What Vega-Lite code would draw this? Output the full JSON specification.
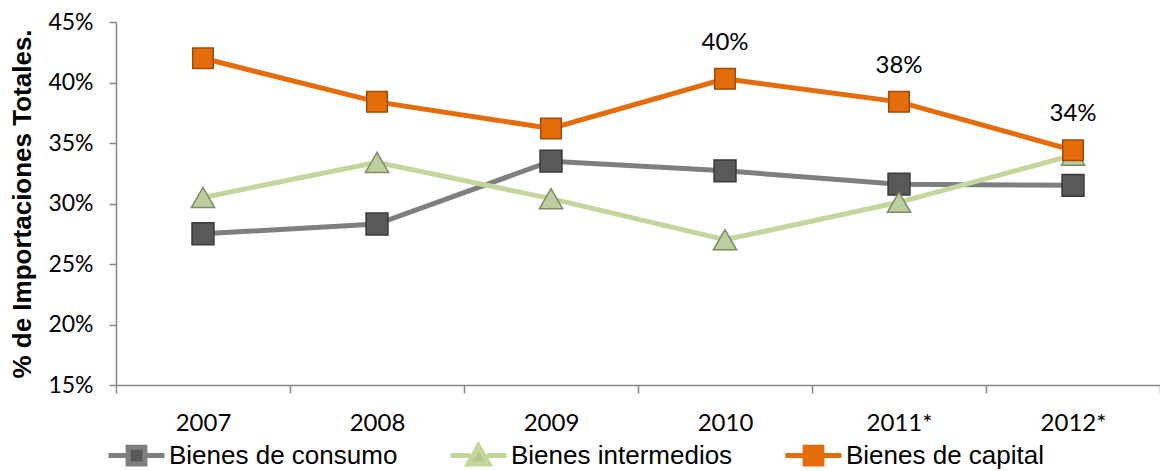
{
  "$schema": "https://vega.github.io/schema/vega-lite/v6.json",
  "width": 1044,
  "height": 363,
  "autosize": {"type": "none"},
  "padding": {"left": 116, "top": 22, "right": 0, "bottom": 86},
  "background": "white",
  "config": {"view": {"stroke": null}, "axis": {"grid": false}},
  "data": {
    "values": [
      {"year": "2007", "serie": "Bienes de consumo", "value": 0.275},
      {"year": "2008", "serie": "Bienes de consumo", "value": 0.283},
      {"year": "2009", "serie": "Bienes de consumo", "value": 0.335},
      {"year": "2010", "serie": "Bienes de consumo", "value": 0.327},
      {"year": "2011*", "serie": "Bienes de consumo", "value": 0.316},
      {"year": "2012*", "serie": "Bienes de consumo", "value": 0.315},
      {"year": "2007", "serie": "Bienes intermedios", "value": 0.305},
      {"year": "2008", "serie": "Bienes intermedios", "value": 0.334},
      {"year": "2009", "serie": "Bienes intermedios", "value": 0.304},
      {"year": "2010", "serie": "Bienes intermedios", "value": 0.270},
      {"year": "2011*", "serie": "Bienes intermedios", "value": 0.301},
      {"year": "2012*", "serie": "Bienes intermedios", "value": 0.340},
      {"year": "2007", "serie": "Bienes de capital", "value": 0.420},
      {"year": "2008", "serie": "Bienes de capital", "value": 0.384},
      {"year": "2009", "serie": "Bienes de capital", "value": 0.362},
      {"year": "2010", "serie": "Bienes de capital", "value": 0.403, "label": "40%"},
      {"year": "2011*", "serie": "Bienes de capital", "value": 0.384, "label": "38%"},
      {"year": "2012*", "serie": "Bienes de capital", "value": 0.344, "label": "34%"}
    ]
  },
  "encoding": {
    "x": {
      "field": "year", "type": "ordinal", "sort": null,
      "scale": {"type": "band", "paddingInner": 0, "paddingOuter": 0},
      "axis": {
        "title": null, "labelAngle": 0, "tickBand": "extent",
        "domainColor": "#868686", "domainWidth": 1.5,
        "tickColor": "#868686", "tickWidth": 1.5, "tickSize": 8,
        "labelFont": "Lato", "labelFontSize": 24, "labelColor": "#000",
        "labelPadding": 18
      }
    },
    "y": {
      "field": "value", "type": "quantitative",
      "scale": {"domain": [0.15, 0.45], "nice": false, "zero": false},
      "axis": {
        "values": [0.15, 0.2, 0.25, 0.3, 0.35, 0.4, 0.45],
        "format": ".0%",
        "domainColor": "#868686", "domainWidth": 1.5,
        "tickColor": "#868686", "tickWidth": 1.5, "tickSize": 7,
        "labelFont": "Lato", "labelFontSize": 23, "labelColor": "#000",
        "labelPadding": 16,
        "title": "% de Importaciones Totales.",
        "titleFont": "Liberation Sans", "titleFontSize": 26, "titleFontWeight": "bold",
        "titleColor": "#000", "titlePadding": 12
      }
    }
  },
  "layer": [
    {
      "mark": {"type": "line", "strokeWidth": 5},
      "encoding": {
        "color": {
          "field": "serie", "type": "nominal",
          "scale": {
            "domain": ["Bienes de consumo", "Bienes intermedios", "Bienes de capital"],
            "range": ["#7F7F7F", "#C3D69B", "#E46C0A"]
          },
          "legend": {
            "title": null, "orient": "none", "direction": "horizontal",
            "legendX": -10, "legendY": 403,
            "labelFont": "Liberation Sans", "labelFontSize": 26, "labelColor": "#000",
            "labelLimit": 0,
            "symbolSize": 3136, "labelOffset": 2, "columnPadding": 42,
            "padding": 0, "symbolOffset": 0,
            "encode": {
              "symbols": {
                "update": {
                  "shape": {"signal": "datum.value === 'Bienes intermedios' ? 'M-1,0L-0.3,0M0.3,0L1,0M0,-0.34L0.37,0.3L-0.37,0.3Z' : 'M-1,0L-0.3,0M0.3,0L1,0M-0.3,-0.3L0.3,-0.3L0.3,0.3L-0.3,0.3Z'"},
                  "fill": {"signal": "datum.value === 'Bienes de capital' ? '#E46C0A' : datum.value === 'Bienes de consumo' ? '#595959' : '#B5C894'"},
                  "strokeWidth": {"value": 5},
                  "opacity": {"value": 1}
                }
              }
            }
          }
        }
      }
    },
    {
      "transform": [{"filter": "datum.serie === 'Bienes de consumo'"}],
      "mark": {"type": "point", "shape": "square", "filled": true, "size": 480, "fill": "#595959", "stroke": "#3A3A3A", "strokeWidth": 1.5, "opacity": 1}
    },
    {
      "transform": [{"filter": "datum.serie === 'Bienes intermedios'"}],
      "mark": {"type": "point", "shape": "triangle-up", "filled": true, "size": 540, "fill": "#BCCD9E", "stroke": "#7E8C66", "strokeWidth": 1.5, "opacity": 1}
    },
    {
      "transform": [{"filter": "datum.serie === 'Bienes de capital'"}],
      "mark": {"type": "point", "shape": "square", "filled": true, "size": 420, "fill": "#E46C0A", "stroke": "#A04C06", "strokeWidth": 1.5, "opacity": 1}
    },
    {
      "transform": [{"filter": "datum.label"}],
      "mark": {"type": "text", "dy": -36, "font": "Lato", "fontSize": 24, "color": "#000"},
      "encoding": {"text": {"field": "label", "type": "nominal"}}
    }
  ]
}
